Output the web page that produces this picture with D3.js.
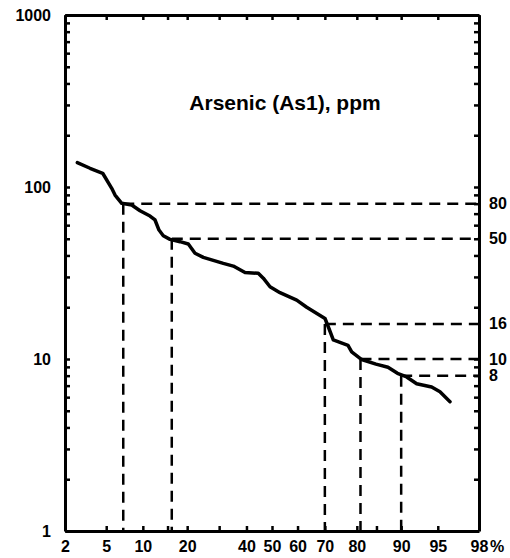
<!DOCTYPE html>
<html>
<head>
<meta charset="utf-8">
<script src="https://cdn.jsdelivr.net/npm/d3@7"></script>
<style>
  html, body { margin: 0; padding: 0; background: #fff; }
  svg text { font-family: "Liberation Sans", Arial, Helvetica, sans-serif; font-weight: bold; fill: #000; }
</style>
</head>
<body>
<svg id="chart" width="510" height="558"></svg>
<script>
// Cumulative probability (%) of each sample, ranked from highest arsenic content
const cumPercent = [2.67, 3.55, 4.65, 5.59, 5.97, 6.80, 8.20, 9.52, 11.31, 12.29,
  13.11, 14.04, 15.58, 18.07, 20.32, 22.25, 24.78, 31.45, 35.05, 39.44,
  44.59, 46.56, 49.21, 53.16, 59.68, 63.47, 70.05, 71.17, 72.84, 77.46,
  78.54, 81.32, 84.89, 87.51, 89.34, 90.93, 92.44, 94.34, 95.22, 96.13];
// Arsenic concentration, ppm
const arsenicPpm = [138.5, 128.5, 120.2, 98.3, 89.8, 80.4, 78.6, 72.8, 67.8, 64.3,
  56.2, 52.1, 49.6, 48.1, 46.6, 41.2, 39.0, 36.0, 34.7, 31.8,
  31.5, 29.5, 26.3, 24.3, 22.0, 20.0, 17.2, 15.4, 12.9, 12.0,
  11.0, 9.93, 9.33, 8.95, 8.26, 7.86, 7.18, 6.87, 6.45, 5.65];

// Reference thresholds (ppm) and the cumulative % where the curve reaches them
const thresholdPpm = [80, 50, 16, 10, 8];
const thresholdPercent = [7, 16, 70, 81, 90];

// Probability axis ticks and labels
const probTicks = [2, 5, 10, 15, 20, 30, 40, 50, 60, 70, 80, 85, 90, 95, 98];
const probLabels = ["2", "5", "10", "", "20", "", "40", "50", "60", "70", "80", "", "90", "95", "98"];
// Log axis ticks
const logMajor = [1, 10, 100, 1000];
const logMajorLabels = ["1", "10", "100", "1000"];
const chartTitle = "Arsenic (As1), ppm";

// Inverse of the standard normal CDF (Acklam's rational approximation)
function probit(p) {
  const a = [-3.969683028665376e+01, 2.209460984245205e+02, -2.759285104469687e+02,
             1.383577518672690e+02, -3.066479806614716e+01, 2.506628277459239e+00];
  const b = [-5.447609879822406e+01, 1.615858368580409e+02, -1.556989798598866e+02,
             6.680131188771972e+01, -1.328068155288572e+01];
  const c = [-7.784894002430293e-03, -3.223964580411365e-01, -2.400758277161838e+00,
             -2.549732539343734e+00, 4.374664141464968e+00, 2.938163982698783e+00];
  const d = [7.784695709041462e-03, 3.224671290700398e-01, 2.445134137142996e+00,
             3.754408661907416e+00];
  const plow = 0.02425, phigh = 1 - plow;
  let q, r;
  if (p < plow) {
    q = Math.sqrt(-2 * Math.log(p));
    return (((((c[0]*q+c[1])*q+c[2])*q+c[3])*q+c[4])*q+c[5]) / ((((d[0]*q+d[1])*q+d[2])*q+d[3])*q+1);
  }
  if (p > phigh) {
    q = Math.sqrt(-2 * Math.log(1 - p));
    return -(((((c[0]*q+c[1])*q+c[2])*q+c[3])*q+c[4])*q+c[5]) / ((((d[0]*q+d[1])*q+d[2])*q+d[3])*q+1);
  }
  q = p - 0.5; r = q * q;
  return (((((a[0]*r+a[1])*r+a[2])*r+a[3])*r+a[4])*r+a[5])*q / (((((b[0]*r+b[1])*r+b[2])*r+b[3])*r+b[4])*r+1);
}

const L = 65, R = 479, T = 15, B = 531;
const FS = 16;
const svg = d3.select("#chart");

// x: linear in normal quantiles (probability paper); y: logarithmic
const zScale = d3.scaleLinear().domain([probit(0.02), probit(0.98)]).range([L, R]);
const x = pct => zScale(probit(pct / 100));
const y = d3.scaleLog().domain([1, 1000]).range([B, T]);

const zTicks = probTicks.map(p => probit(p / 100));
const minorLog = [];
[1, 10, 100].forEach(dec => { for (let k = 2; k <= 9; k++) minorLog.push(dec * k); });
const allLog = logMajor.concat(minorLog);

function styleAxis(g) {
  g.select(".domain").attr("stroke", "#000").attr("stroke-width", 3);
  g.selectAll(".tick line").attr("stroke", "#000").attr("stroke-width", 2.5);
  g.selectAll(".tick text").attr("font-size", FS);
}

// Bottom axis with labels
svg.append("g").attr("transform", `translate(0,${B})`)
  .call(d3.axisBottom(zScale).tickValues(zTicks).tickSizeInner(-5).tickSizeOuter(0)
    .tickPadding(10).tickFormat((d, i) => probLabels[i]))
  .call(styleAxis);
// Top axis (ticks only)
svg.append("g").attr("transform", `translate(0,${T})`)
  .call(d3.axisTop(zScale).tickValues(zTicks).tickSizeInner(-5).tickSizeOuter(0).tickFormat(""))
  .call(styleAxis);
// Left axis: decade labels plus minor ticks
svg.append("g").attr("transform", `translate(${L},0)`)
  .call(d3.axisLeft(y).tickValues(allLog).tickSizeInner(-5).tickSizeOuter(0).tickPadding(14)
    .tickFormat(d => { const i = logMajor.indexOf(d); return i >= 0 ? logMajorLabels[i] : ""; }))
  .call(styleAxis);
// Right axis (ticks only)
svg.append("g").attr("transform", `translate(${R},0)`)
  .call(d3.axisRight(y).tickValues(allLog).tickSizeInner(-5).tickSizeOuter(0).tickFormat(""))
  .call(styleAxis);

// Percent sign after the last probability label
svg.append("text").attr("x", x(98) + 11).attr("y", B + 10).attr("dy", "0.71em")
  .attr("font-size", FS).text("%");

// Threshold guide lines: horizontal to the right frame, vertical down to the baseline
const guides = svg.append("g").attr("fill", "none").attr("stroke", "#000")
  .attr("stroke-width", 2.5).attr("stroke-dasharray", "11,7");
thresholdPpm.forEach((v, i) => {
  const gx = x(thresholdPercent[i]), gy = y(v);
  guides.append("line").attr("x1", gx).attr("x2", R).attr("y1", gy).attr("y2", gy);
  guides.append("line").attr("x1", gx).attr("x2", gx).attr("y1", gy).attr("y2", B);
  svg.append("text").attr("x", R + 10).attr("y", gy).attr("dy", "0.35em")
    .attr("font-size", FS).text(v);
});

// Cumulative distribution curve
const pts = cumPercent.map((p, i) => [p, arsenicPpm[i]]);
svg.append("path").datum(pts)
  .attr("fill", "none").attr("stroke", "#000").attr("stroke-width", 3.5)
  .attr("stroke-linejoin", "round").attr("stroke-linecap", "round")
  .attr("d", d3.line().x(d => x(d[0])).y(d => y(d[1])));

// Title
svg.append("text").attr("x", 285).attr("y", 110).attr("text-anchor", "middle")
  .attr("font-size", 21).text(chartTitle);
</script>
</body>
</html>
